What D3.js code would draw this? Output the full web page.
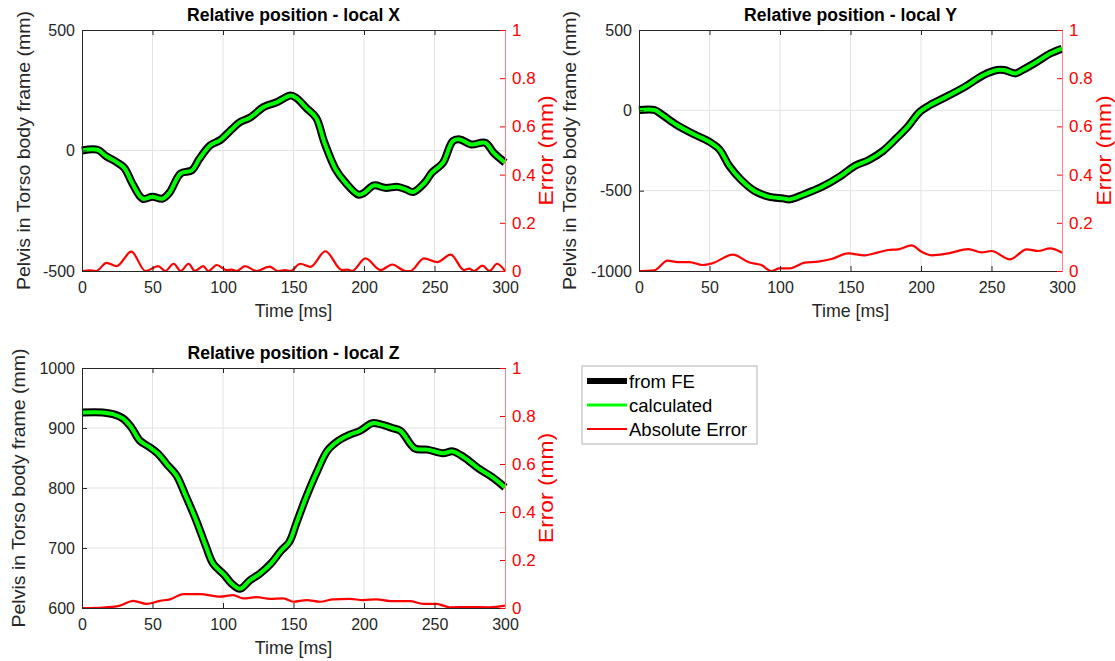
<!DOCTYPE html>
<html>
<head>
<meta charset="utf-8">
<script src="https://cdn.jsdelivr.net/npm/d3@7"></script>
<style>
  body { margin: 0; background: #fff; }
  svg { font-family: "Liberation Sans", Arial, Helvetica, sans-serif; }
</style>
</head>
<body>
<svg id="fig" width="1115" height="661"></svg>
<script>
// ---- Pelvis position in torso frame (mm) and absolute error (mm) ----
const timeTicks = [0, 50, 100, 150, 200, 250, 300];
const errorTicks = [0, 0.2, 0.4, 0.6, 0.8, 1];

// local X
const timeX = [0,11,17,25,30,36,43,50,57,62,70,78,83,91,98,106,112,119,129,138,148,152,159,166,172,180,187,196,200,207,215,224,230,235,243,248,256,263,268,276,286,292,300];
const feX   = [0,3,-23,-50,-72,-140,-200,-192,-200,-175,-95,-82,-37,22,43,87,118,136,181,200,228,218,177,136,32,-79,-134,-183,-176,-145,-155,-151,-162,-172,-134,-93,-51,39,46,25,32,-10,-50];
const calcX = feX.slice();   // calculated trace coincides with FE within < 0.1 mm
const errTimeX = [0,5,10,17.5,24.6,35,45,54,59,65,70,75.6,80,86,89.6,95.6,102.7,106,109.7,115.6,124,133,139,144,147.7,154.8,162,172.6,184.4,188,191.6,201,211.8,220,229.5,233,242.5,252,261.5,271,274.6,278,284,289,294.4,300];
const errX = [0,0.003,0,0.034,0.02,0.08,0,0.02,0,0.03,0,0.03,0,0.02,0,0.025,0.004,0.006,0,0.02,0,0.018,0,0.004,0,0.03,0.017,0.082,0.004,0.006,0,0.052,0.004,0.027,0,0,0.052,0.037,0.068,0.004,0.01,0,0.022,0,0.03,0];
const posTicksX = [-500, 0, 500];

// local Y
const timeY = [0,11,16,26,39,49,57,64,72,82,92,102,107,117,130,143,153,163,173,183,191,199,206,219,232,244,254,259,267,272,282,292,300];
const feY   = [2,2,-25,-87,-149,-191,-243,-346,-429,-502,-537,-548,-554,-523,-475,-409,-346,-309,-253,-170,-98,-10,31,89,151,218,251,251,230,251,301,355,384];
const calcY = feY.slice();
const errTimeY = [0,10.8,20.3,27.4,35.7,45,52,66.6,78.4,86.7,93.8,99.7,106.8,117.5,127,136.5,148.4,160,169.6,176.7,183.8,193.3,200.4,207.5,219.4,233.6,243,250,263,275,283,291.5,300];
const errY = [0,0.003,0.043,0.037,0.037,0.025,0.032,0.068,0.035,0.025,0,0.011,0.011,0.035,0.039,0.05,0.073,0.065,0.077,0.087,0.09,0.106,0.08,0.065,0.073,0.091,0.077,0.083,0.048,0.09,0.083,0.094,0.076];
const posTicksY = [-1000, -500, 0, 500];

// local Z
const timeZ = [0,14.7,22,29,35,41,48,54,60,67,73,81,88,93,101,106,112,119,126,134,141,147,152,159,167,174,182,190,197,206,212,220,226,236,245,256,263,271,281,291,300];
const feZ   = [926,926,923,916,901,879,868,857,840,821,790,746,702,674,655,641,632,646,657,674,695,710,741,785,829,862,879,889,895,908,906,900,895,866,864,858,861,851,833,818,801];
const calcZ = feZ.slice();
const errTimeZ = [0,15,27,36.4,45.9,55.3,62.4,71.8,83.7,97.9,107.3,114.4,123.9,133.3,142.8,149.9,159.4,168.8,178.2,190,199.5,209,218.4,232.6,242,251.5,261,275,289,300];
const errZ = [0,0.002,0.01,0.03,0.017,0.03,0.036,0.058,0.058,0.047,0.054,0.04,0.045,0.038,0.04,0.026,0.033,0.026,0.036,0.038,0.033,0.036,0.029,0.029,0.017,0.017,0.003,0.004,0.003,0.01];
const posTicksZ = [600, 700, 800, 900, 1000];

const legendLabels = ["from FE", "calculated", "Absolute Error"];

// ---- styling ----
const AX = "#262626";
const GRID = "#e3e3e3";
const RED = "#ff0000";
const GREEN = "#00ff00";
const TICK_FS = 16;
const svg = d3.select("#fig");

function zip(t, v) { return t.map((d, i) => [d, v[i]]); }
const plain = d => String(d);   // hyphen-minus, no thousands separator

function panel(cfg) {
  const g = svg.append("g");
  const x = d3.scaleLinear().domain([0, 300]).range([cfg.left, cfg.right]);
  const yL = d3.scaleLinear().domain(cfg.posDomain).range([cfg.bottom, cfg.top]);
  const yR = d3.scaleLinear().domain([0, 1]).range([cfg.bottom, cfg.top]);

  // grid
  g.append("g").selectAll("line").data(timeTicks.slice(1, -1)).join("line")
    .attr("x1", d => x(d)).attr("x2", d => x(d))
    .attr("y1", cfg.top).attr("y2", cfg.bottom)
    .attr("stroke", GRID).attr("stroke-width", 1);
  g.append("g").selectAll("line").data(cfg.posTicks.filter(d => d !== cfg.posDomain[0] && d !== cfg.posDomain[1])).join("line")
    .attr("x1", cfg.left).attr("x2", cfg.right)
    .attr("y1", d => yL(d)).attr("y2", d => yL(d))
    .attr("stroke", GRID).attr("stroke-width", 1);

  // curves
  const posLine = d3.line().x(d => x(d[0])).y(d => yL(d[1])).curve(d3.curveCatmullRom.alpha(0.5));
  const errLine = d3.line().x(d => x(d[0])).y(d => yR(d[1])).curve(d3.curveMonotoneX);

  g.append("path").datum(zip(cfg.time, cfg.fe)).attr("d", posLine)
    .attr("fill", "none").attr("stroke", "#000").attr("stroke-width", 8)
    .attr("stroke-linejoin", "round").attr("stroke-linecap", "butt");
  g.append("path").datum(zip(cfg.time, cfg.calc)).attr("d", posLine)
    .attr("fill", "none").attr("stroke", GREEN).attr("stroke-width", 4)
    .attr("stroke-linejoin", "round").attr("stroke-linecap", "butt");
  g.append("path").datum(zip(cfg.errTime, cfg.err)).attr("d", errLine)
    .attr("fill", "none").attr("stroke", RED).attr("stroke-width", 2.2)
    .attr("stroke-linejoin", "round");

  // bottom axis (ticks inward)
  const xa = g.append("g").attr("transform", `translate(0,${cfg.bottom})`)
    .call(d3.axisBottom(x).tickValues(timeTicks).tickSizeInner(-5).tickSizeOuter(0).tickPadding(11).tickFormat(plain));
  xa.select(".domain").attr("stroke", AX);
  xa.selectAll(".tick line").attr("stroke", AX);
  xa.selectAll("text").attr("fill", AX).attr("font-size", TICK_FS).attr("font-family", null);

  // top border with ticks
  const xt = g.append("g").attr("transform", `translate(0,${cfg.top})`)
    .call(d3.axisTop(x).tickValues(timeTicks).tickSizeInner(-5).tickSizeOuter(0).tickFormat(""));
  xt.select(".domain").attr("stroke", AX);
  xt.selectAll(".tick line").attr("stroke", AX);

  // left axis
  const ya = g.append("g").attr("transform", `translate(${cfg.left},0)`)
    .call(d3.axisLeft(yL).tickValues(cfg.posTicks).tickSizeInner(-5).tickSizeOuter(0).tickPadding(7).tickFormat(plain));
  ya.select(".domain").attr("stroke", AX);
  ya.selectAll(".tick line").attr("stroke", AX);
  ya.selectAll("text").attr("fill", AX).attr("font-size", TICK_FS).attr("font-family", null);

  // right axis (error)
  const yr = g.append("g").attr("transform", `translate(${cfg.right},0)`)
    .call(d3.axisRight(yR).tickValues(errorTicks).tickSizeInner(-5).tickSizeOuter(0).tickPadding(7)
      .tickFormat(d3.format("~g")));
  yr.select(".domain").attr("stroke", "#ff7f7f");
  yr.selectAll(".tick line").attr("stroke", RED);
  yr.selectAll("text").attr("fill", RED).attr("font-size", 17).attr("font-family", null);

  // title
  g.append("text").attr("x", (cfg.left + cfg.right) / 2).attr("y", cfg.top - 9)
    .attr("text-anchor", "middle").attr("font-size", 17.6).attr("font-weight", "bold")
    .attr("fill", "#000").text(cfg.title);

  // x label
  g.append("text").attr("x", (cfg.left + cfg.right) / 2).attr("y", cfg.bottom + 46)
    .attr("text-anchor", "middle").attr("font-size", 17.8).attr("fill", AX).text("Time [ms]");

  // left y label
  const midY = (cfg.top + cfg.bottom) / 2;
  g.append("text").attr("transform", `translate(${cfg.yLabelX},${midY}) rotate(-90)`)
    .attr("text-anchor", "middle").attr("font-size", 17.8).attr("fill", AX)
    .attr("textLength", 279).attr("lengthAdjust", "spacingAndGlyphs")
    .text("Pelvis in Torso body frame (mm)");

  // right y label
  g.append("text").attr("transform", `translate(${cfg.errLabelX},${midY}) rotate(-90)`)
    .attr("text-anchor", "middle").attr("font-size", 21).attr("fill", RED)
    .attr("textLength", 110).attr("lengthAdjust", "spacingAndGlyphs")
    .text("Error (mm)");
}

panel({ left: 82, right: 505, top: 30, bottom: 271, posDomain: [-500, 500], posTicks: posTicksX,
        time: timeX, fe: feX, calc: calcX, errTime: errTimeX, err: errX,
        title: "Relative position - local X", yLabelX: 30, errLabelX: 553 });
panel({ left: 639, right: 1062, top: 30, bottom: 271, posDomain: [-1000, 500], posTicks: posTicksY,
        time: timeY, fe: feY, calc: calcY, errTime: errTimeY, err: errY,
        title: "Relative position - local Y", yLabelX: 576, errLabelX: 1111 });
panel({ left: 82, right: 505, top: 368, bottom: 608, posDomain: [600, 1000], posTicks: posTicksZ,
        time: timeZ, fe: feZ, calc: calcZ, errTime: errTimeZ, err: errZ,
        title: "Relative position - local Z", yLabelX: 25, errLabelX: 553 });

// legend
const legend = svg.append("g").attr("transform", "translate(582,366)");
legend.append("rect").attr("width", 175).attr("height", 78)
  .attr("fill", "#fff").attr("stroke", "#b3b3b3").attr("stroke-width", 1);
const legendStyles = [
  { color: "#000", width: 6 },
  { color: GREEN, width: 3 },
  { color: RED, width: 2 }
];
legendLabels.forEach((lab, i) => {
  const yy = 15 + i * 24;
  legend.append("line").attr("x1", 5).attr("x2", 45).attr("y1", yy).attr("y2", yy)
    .attr("stroke", legendStyles[i].color).attr("stroke-width", legendStyles[i].width);
  legend.append("text").attr("x", 47).attr("y", yy + 6.5).attr("font-size", 18.5)
    .attr("fill", "#000").text(lab);
});
</script>
</body>
</html>
